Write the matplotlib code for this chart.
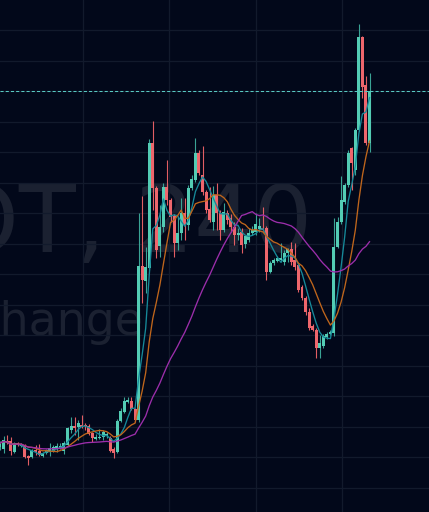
import matplotlib
matplotlib.use("Agg")
import matplotlib.pyplot as plt
from matplotlib.ticker import MultipleLocator, FixedLocator
import numpy as np
import pandas as pd

# ---- data (price units) ----
opens = [65, 63, 71, 71, 60, 69, 66, 67, 56, 55, 62, 61, 56, 59, 60, 61, 63, 64, 61, 67,
         82, 86, 85, 87, 87, 86, 79, 73, 74, 75, 76, 74, 63, 60, 91, 100, 110, 111, 103, 92,
         246, 231, 244, 369, 324, 266, 285, 325, 312, 296, 269, 279, 299, 287, 324, 332, 359, 337, 320, 303,
         290, 317, 299, 282, 299, 294, 285, 277, 280, 268, 272, 279, 280, 283, 284, 284, 240, 249, 251, 252,
         250, 259, 263, 252, 247, 225, 214, 200, 186, 182, 164, 166, 175, 178, 179, 265, 290, 310, 327, 364,
         342, 382, 475, 427, 369]
highs = [71, 76, 77, 75, 70, 70, 69, 68, 57, 63, 67, 68, 60, 63, 69, 67, 69, 69, 71, 85,
         95, 95, 92, 97, 89, 88, 80, 78, 83, 82, 80, 76, 65, 93, 104, 115, 115, 115, 104, 299,
         316, 265, 373, 391, 326, 307, 329, 352, 314, 298, 295, 314, 314, 327, 337, 374, 362, 366, 322, 325,
         326, 329, 302, 309, 302, 298, 290, 284, 284, 277, 284, 286, 299, 294, 305, 286, 251, 254, 256, 269,
         262, 264, 270, 269, 249, 227, 216, 204, 188, 184, 177, 178, 180, 182, 294, 295, 336, 329, 362, 365,
         384, 488, 476, 436, 439]
lows = [62, 59, 68, 57, 59, 66, 65, 54, 47, 54, 57, 56, 55, 58, 56, 60, 60, 63, 58, 66,
        79, 77, 72, 84, 82, 77, 70, 72, 73, 72, 74, 60, 54, 59, 90, 99, 109, 102, 90, 90,
        209, 219, 242, 302, 254, 255, 280, 307, 290, 255, 262, 272, 272, 282, 322, 330, 337, 317, 299, 290,
        282, 282, 272, 280, 288, 280, 267, 272, 259, 264, 270, 277, 277, 280, 281, 232, 239, 247, 250, 250,
        247, 250, 247, 242, 220, 212, 197, 182, 181, 154, 154, 164, 173, 177, 176, 264, 288, 308, 325, 322,
        337, 381, 414, 367, 360]
closes = [69, 72, 69, 61, 69, 67, 68, 55, 54, 62, 60, 57, 59, 62, 64, 65, 66, 66, 69, 84,
          86, 84, 89, 85, 86, 78, 74, 75, 75, 80, 78, 61, 59, 91, 101, 111, 112, 103, 92, 246,
          232, 245, 369, 324, 262, 285, 325, 312, 295, 269, 279, 299, 287, 324, 333, 359, 339, 320, 302, 292,
          317, 299, 282, 300, 292, 285, 277, 279, 267, 276, 279, 282, 288, 286, 282, 240, 249, 252, 254, 254,
          259, 263, 250, 245, 222, 214, 200, 184, 182, 164, 169, 176, 178, 180, 265, 290, 312, 327, 359, 349,
          382, 475, 425, 369, 421]

ma_periods = [5, 10, 30]
time_grid = [23.4, 47.7, 72.1, 96.3]
watermark_title = "DOT, 240"
watermark_sub = "Exchange"

# ---- style ----
bg = "#02081a"
grid_col = "#121a2c"
up_body, dn_body = "#53ccb4", "#ee666c"
up_wick, dn_wick = "#3aa395", "#e25e63"
ma_colors = ["#168a9a", "#c0661c", "#9c2eab"]
wm_col = "#1b2131"

fig = plt.figure(figsize=(4.29, 5.12), dpi=100)
fig.patch.set_facecolor(bg)
ax = fig.add_axes([0, 0, 1, 1])
ax.set_facecolor(bg)

o = np.array(opens, float)
h = np.array(highs, float)
l = np.array(lows, float)
c = np.array(closes, float)
idx = np.arange(len(c))
up = c >= o

# watermark
ax.text(312 / 429, 260 / 512, watermark_title, transform=ax.transAxes, ha="right", va="baseline",
        fontsize=67, color=wm_col, family="DejaVu Sans", zorder=0.5)
ax.text(143 / 429, 177 / 512, watermark_sub, transform=ax.transAxes, ha="right", va="baseline",
        fontsize=33, color=wm_col, family="DejaVu Sans", zorder=0.5)

# candles
ax.vlines(idx, l, h, colors=np.where(up, up_wick, dn_wick), linewidth=0.8, zorder=2)
body_bottom = np.minimum(o, c)
body_h = np.maximum(np.abs(c - o), 0.9)
ax.bar(idx, body_h, bottom=body_bottom, width=0.84,
       color=np.where(up, up_body, dn_body), linewidth=0, zorder=3)

# moving averages
s = pd.Series(c)
for p, col in zip(ma_periods, ma_colors):
    ax.plot(idx, s.rolling(p, min_periods=1).mean(), color=col, linewidth=0.95, zorder=4)

# last price line
ax.axhline(c[-1], color="#58c9c2", linestyle=(0, (3, 2)), linewidth=0.75, zorder=5)

ax.set_xlim(0, 429 / 3.553)
ax.set_ylim(0, 512)
ax.yaxis.set_major_locator(MultipleLocator(30.5, offset=24.5))
ax.xaxis.set_major_locator(FixedLocator(time_grid))
ax.grid(True, color=grid_col, linewidth=0.9, zorder=0)
ax.set_axisbelow(True)
ax.tick_params(length=0, labelleft=False, labelbottom=False)
for sp in ax.spines.values():
    sp.set_visible(False)

fig.savefig("out.png", dpi=100, facecolor=bg)
